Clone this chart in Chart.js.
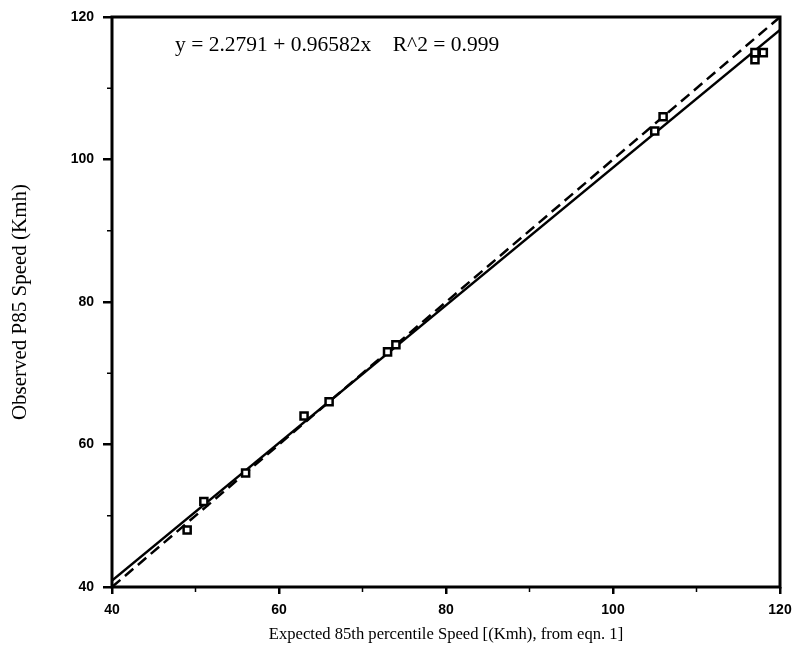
<!DOCTYPE html>
<html>
<head>
<meta charset="utf-8">
<script src="https://cdn.jsdelivr.net/npm/chart.js@4"></script>
<style>
  html, body { margin: 0; padding: 0; background: #fff; }
  #wrap { width: 797px; height: 661px; }
</style>
</head>
<body>
<div id="wrap"><canvas id="speedChart" width="797" height="661"></canvas></div>
<script>
// Expected vs observed 85th percentile speeds (Kmh)
const expectedSpeed = [49, 51, 56, 63, 66, 73, 74, 105, 106, 117, 117, 118];
const observedSpeed = [48, 52, 56, 64, 66, 73, 74, 104, 106, 114, 115, 115];

// Least squares fit and the 1:1 reference line
const fitIntercept = 2.2791;
const fitSlope = 0.96582;
const fitLabel = 'y = 2.2791 + 0.96582x    R^2 = 0.999';
const lineEnds = [40, 120];

const axisMin = 40;
const axisMax = 120;
const majorTicks = [40, 60, 80, 100, 120];
const minorTicks = [50, 70, 90, 110];

const points = expectedSpeed.map((x, i) => ({ x: x, y: observedSpeed[i] }));
const fitLine = lineEnds.map(x => ({ x: x, y: fitIntercept + fitSlope * x }));
const unityLine = lineEnds.map(x => ({ x: x, y: x }));

// frame, minor ticks and the fit equation
const framePlugin = {
    id: 'frame',
    afterDraw(chart) {
        const { ctx, chartArea: a, scales } = chart;
        ctx.save();
        ctx.strokeStyle = '#000';
        ctx.lineWidth = 3;
        ctx.strokeRect(a.left, a.top, a.right - a.left, a.bottom - a.top);

        ctx.lineWidth = 1.5;
        minorTicks.forEach(v => {
            const px = scales.x.getPixelForValue(v);
            ctx.beginPath();
            ctx.moveTo(px, a.bottom);
            ctx.lineTo(px, a.bottom + 5);
            ctx.stroke();
            const py = scales.y.getPixelForValue(v);
            ctx.beginPath();
            ctx.moveTo(a.left, py);
            ctx.lineTo(a.left - 5, py);
            ctx.stroke();
        });

        ctx.fillStyle = '#000';
        ctx.font = '21.5px "Liberation Serif", "Times New Roman", serif';
        ctx.textBaseline = 'alphabetic';
        ctx.fillText(fitLabel, 175, 51);
        ctx.restore();
    }
};

const tickFont = { family: '"Liberation Sans", Arial, sans-serif', size: 14, weight: 'bold' };

new Chart(document.getElementById('speedChart'), {
    type: 'scatter',
    data: {
        datasets: [
            {
                label: 'Observed',
                data: points,
                pointStyle: 'rect',
                pointRadius: 5,
                backgroundColor: '#fff',
                borderColor: '#000',
                borderWidth: 2.5,
                order: 0
            },
            {
                label: 'Fit',
                type: 'line',
                data: fitLine,
                borderColor: '#000',
                borderWidth: 2.5,
                pointRadius: 0,
                fill: false,
                order: 1
            },
            {
                label: 'Unity',
                type: 'line',
                data: unityLine,
                borderColor: '#000',
                borderWidth: 2.5,
                borderDash: [11, 6],
                pointRadius: 0,
                fill: false,
                order: 2
            }
        ]
    },
    options: {
        responsive: false,
        animation: false,
        layout: { padding: { top: 17, right: 17, left: 0, bottom: 0 } },
        plugins: {
            legend: { display: false },
            tooltip: { enabled: false }
        },
        scales: {
            x: {
                type: 'linear',
                min: axisMin,
                max: axisMax,
                afterBuildTicks: s => { s.ticks = majorTicks.map(v => ({ value: v })); },
                afterFit: s => { s.height = 74; s.paddingRight = 0; s.paddingLeft = 0; },
                grid: { drawOnChartArea: false, drawTicks: true, tickLength: 7, color: '#000', lineWidth: 2.5 },
                border: { display: false },
                ticks: { color: '#000', font: tickFont, padding: 8 },
                title: {
                    display: true,
                    text: 'Expected 85th percentile Speed [(Kmh), from eqn. 1]',
                    color: '#000',
                    font: { family: '"Liberation Serif", "Times New Roman", serif', size: 16.6 },
                    padding: { top: 0, bottom: 16 }
                }
            },
            y: {
                type: 'linear',
                min: axisMin,
                max: axisMax,
                afterBuildTicks: s => { s.ticks = majorTicks.map(v => ({ value: v })); },
                afterFit: s => { s.width = 112; s.paddingTop = 0; s.paddingBottom = 0; },
                grid: { drawOnChartArea: false, drawTicks: true, tickLength: 9, color: '#000', lineWidth: 2.5 },
                border: { display: false },
                ticks: { color: '#000', font: tickFont, padding: 9 },
                title: {
                    display: true,
                    text: 'Observed P85 Speed (Kmh)',
                    color: '#000',
                    font: { family: '"Liberation Serif", "Times New Roman", serif', size: 21 },
                    padding: { top: 8, bottom: 0 }
                }
            }
        }
    },
    plugins: [framePlugin]
});
</script>
</body>
</html>
